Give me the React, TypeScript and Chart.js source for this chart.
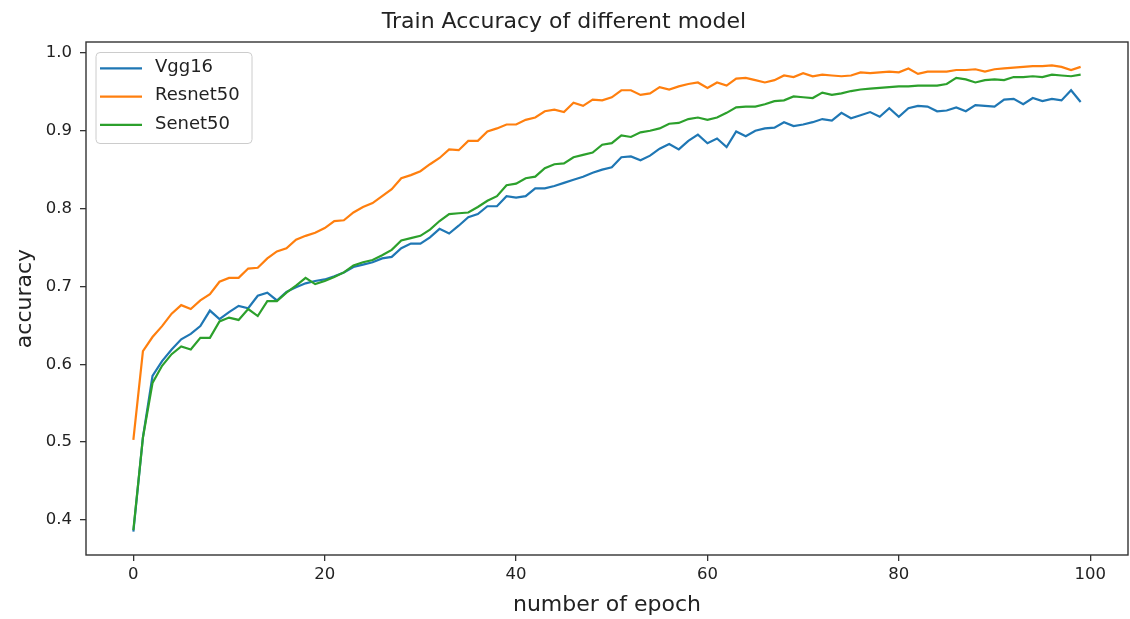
import React, { useEffect, useRef } from "react";
import { Chart, registerables } from "chart.js";

Chart.register(...registerables);

const seriesNames = ["Vgg16", "Resnet50", "Senet50"];
const seriesColors = ["#1f77b4", "#ff7f0e", "#2ca02c"];

const vgg16 = [
  0.385, 0.506, 0.585, 0.604, 0.619, 0.632, 0.639, 0.649, 0.669, 0.658,
  0.667, 0.675, 0.672, 0.688, 0.692, 0.682, 0.693, 0.699, 0.704, 0.707,
  0.709, 0.713, 0.718, 0.725, 0.728, 0.731, 0.736, 0.738, 0.749, 0.755,
  0.755, 0.763, 0.774, 0.768, 0.778, 0.789, 0.793, 0.803, 0.803, 0.816,
  0.814, 0.816, 0.826, 0.826, 0.829, 0.833, 0.837, 0.841, 0.846, 0.850,
  0.853, 0.866, 0.867, 0.862, 0.868, 0.877, 0.883, 0.876, 0.887, 0.895,
  0.884, 0.890, 0.879, 0.899, 0.893, 0.900, 0.903, 0.904, 0.911, 0.906,
  0.908, 0.911, 0.915, 0.913, 0.923, 0.916, 0.920, 0.924, 0.918, 0.929,
  0.918, 0.929, 0.932, 0.931, 0.925, 0.926, 0.930, 0.925, 0.933, 0.932,
  0.931, 0.940, 0.941, 0.934, 0.942, 0.938, 0.941, 0.939, 0.952, 0.937,
];

const resnet50 = [
  0.503, 0.617, 0.635, 0.649, 0.665, 0.676, 0.671, 0.682, 0.690, 0.706,
  0.711, 0.711, 0.723, 0.724, 0.736, 0.745, 0.749, 0.760, 0.765, 0.769,
  0.775, 0.784, 0.785, 0.795, 0.802, 0.807, 0.816, 0.825, 0.839, 0.843,
  0.848, 0.857, 0.865, 0.876, 0.875, 0.887, 0.887, 0.899, 0.903, 0.908,
  0.908, 0.914, 0.917, 0.925, 0.927, 0.924, 0.936, 0.932, 0.940, 0.939,
  0.943, 0.952, 0.952, 0.946, 0.948, 0.956, 0.953, 0.957, 0.960, 0.962,
  0.955, 0.962, 0.958, 0.967, 0.968, 0.965, 0.962, 0.965, 0.971, 0.969,
  0.974, 0.970, 0.972, 0.971, 0.970, 0.971, 0.975, 0.974, 0.975, 0.976,
  0.975, 0.980, 0.973, 0.976, 0.976, 0.976, 0.978, 0.978, 0.979, 0.976,
  0.979, 0.980, 0.981, 0.982, 0.983, 0.983, 0.984, 0.982, 0.978, 0.982,
];

const senet50 = [
  0.387, 0.506, 0.576, 0.598, 0.613, 0.623, 0.619, 0.634, 0.634, 0.655,
  0.660, 0.657, 0.671, 0.662, 0.681, 0.681, 0.692, 0.701, 0.711, 0.703,
  0.707, 0.712, 0.718, 0.727, 0.731, 0.734, 0.740, 0.747, 0.759, 0.762,
  0.765, 0.773, 0.784, 0.793, 0.794, 0.795, 0.802, 0.810, 0.816, 0.830,
  0.832, 0.839, 0.841, 0.852, 0.857, 0.858, 0.866, 0.869, 0.872, 0.882,
  0.884, 0.894, 0.892, 0.898, 0.900, 0.903, 0.909, 0.910, 0.915, 0.917,
  0.914, 0.917, 0.923, 0.930, 0.931, 0.931, 0.934, 0.938, 0.939, 0.944,
  0.943, 0.942, 0.949, 0.946, 0.948, 0.951, 0.953, 0.954, 0.955, 0.956,
  0.957, 0.957, 0.958, 0.958, 0.958, 0.960, 0.968, 0.966, 0.962, 0.965,
  0.966, 0.965, 0.969, 0.969, 0.970, 0.969, 0.972, 0.971, 0.970, 0.972,
];

const epochs = vgg16.map((_, i) => i);
const xTicks = [0, 20, 40, 60, 80, 100];
const yTicks = [0.4, 0.5, 0.6, 0.7, 0.8, 0.9, 1.0];

const titleText = "Train Accuracy of different model";
const xTitle = "number of epoch";
const yTitle = "accuracy";

const FONT = "'DejaVu Sans', sans-serif";
const TEXT = "#222";
const SPINE = "#333";

const framePlugin = {
  id: "frameAndLegend",
  afterDatasetsDraw(chart: any) {
    const { ctx, chartArea } = chart;
    const { left, top, right, bottom } = chartArea;
    ctx.save();
    // spines
    ctx.strokeStyle = SPINE;
    ctx.lineWidth = 1.4;
    ctx.strokeRect(left, top, right - left, bottom - top);

    // legend
    const x0 = left + 10;
    const y0 = top + 10.5;
    const w = 156;
    const h = 91;
    const r = 4;
    ctx.beginPath();
    ctx.moveTo(x0 + r, y0);
    ctx.lineTo(x0 + w - r, y0);
    ctx.arcTo(x0 + w, y0, x0 + w, y0 + r, r);
    ctx.lineTo(x0 + w, y0 + h - r);
    ctx.arcTo(x0 + w, y0 + h, x0 + w - r, y0 + h, r);
    ctx.lineTo(x0 + r, y0 + h);
    ctx.arcTo(x0, y0 + h, x0, y0 + h - r, r);
    ctx.lineTo(x0, y0 + r);
    ctx.arcTo(x0, y0, x0 + r, y0, r);
    ctx.closePath();
    ctx.fillStyle = "rgba(255,255,255,0.8)";
    ctx.fill();
    ctx.strokeStyle = "#cccccc";
    ctx.lineWidth = 1;
    ctx.stroke();

    const rowOffsets = [15.8, 44.1, 72.4];
    seriesNames.forEach((name, i) => {
      const ry = y0 + rowOffsets[i];
      ctx.beginPath();
      ctx.strokeStyle = seriesColors[i];
      ctx.lineWidth = 2.2;
      ctx.moveTo(x0 + 4, ry);
      ctx.lineTo(x0 + 46, ry);
      ctx.stroke();
      ctx.fillStyle = TEXT;
      ctx.font = `18px ${FONT}`;
      ctx.textAlign = "left";
      ctx.textBaseline = "middle";
      ctx.fillText(name, x0 + 59, ry - 1);
    });
    ctx.restore();
  },
};

export default function App() {
  const canvasRef = useRef<HTMLCanvasElement | null>(null);

  useEffect(() => {
    if (!canvasRef.current) return;
    const seriesValues = [vgg16, resnet50, senet50];
    const drawOrder = [2, 1, 0];
    const chart = new Chart(canvasRef.current, {
      type: "line",
      data: {
        datasets: seriesNames.map((name, i) => ({
          label: name,
          data: seriesValues[i].map((v, j) => ({ x: epochs[j], y: v })),
          borderColor: seriesColors[i],
          backgroundColor: seriesColors[i],
          borderWidth: 2.2,
          pointRadius: 0,
          tension: 0,
          fill: false,
          order: drawOrder[i],
        })),
      },
      options: {
        animation: false,
        responsive: true,
        maintainAspectRatio: false,
        layout: { padding: { left: 0, right: 2, top: 0, bottom: 0 } },
        plugins: {
          legend: { display: false },
          tooltip: { enabled: false },
          title: {
            display: true,
            text: titleText,
            color: TEXT,
            font: { family: FONT, size: 22, weight: "normal", lineHeight: 1.2 },
            padding: { top: 9, bottom: 6.6 },
          },
        },
        scales: {
          x: {
            type: "linear",
            min: -4.95,
            max: 103.95,
            afterBuildTicks: (s: any) => {
              s.ticks = xTicks.map((v) => ({ value: v }));
            },
            afterFit: (s: any) => {
              s.height = 64;
            },
            ticks: {
              callback: (v: any) => String(v),
              color: TEXT,
              font: { family: FONT, size: 16.5 },
              padding: 4,
              maxRotation: 0,
              autoSkip: false,
            },
            grid: {
              display: true,
              drawOnChartArea: false,
              drawTicks: true,
              tickLength: 6,
              tickColor: SPINE,
              lineWidth: 1.3,
            },
            border: { display: false },
            title: {
              display: true,
              text: xTitle,
              color: TEXT,
              font: { family: FONT, size: 22, lineHeight: 1.2 },
              padding: { top: 0, bottom: 1 },
            },
          },
          y: {
            type: "linear",
            min: 0.355,
            max: 1.014,
            afterBuildTicks: (s: any) => {
              s.ticks = yTicks.map((v) => ({ value: v }));
            },
            afterFit: (s: any) => {
              s.width = 86;
            },
            ticks: {
              callback: (v: any) => Number(v).toFixed(1),
              color: TEXT,
              font: { family: FONT, size: 16.5 },
              padding: 8,
              autoSkip: false,
            },
            grid: {
              display: true,
              drawOnChartArea: false,
              drawTicks: true,
              tickLength: 6,
              tickColor: SPINE,
              lineWidth: 1.3,
            },
            border: { display: false },
            title: {
              display: true,
              text: yTitle,
              color: TEXT,
              font: { family: FONT, size: 22, lineHeight: 1.2 },
              padding: { top: 12, bottom: 0 },
            },
          },
        },
      },
      plugins: [framePlugin],
    } as any);
    return () => chart.destroy();
  }, []);

  return (
    <div
      style={{
        position: "fixed",
        left: 0,
        top: 0,
        width: 1130,
        height: 619,
        background: "#fff",
      }}
    >
      <canvas ref={canvasRef} />
    </div>
  );
}
